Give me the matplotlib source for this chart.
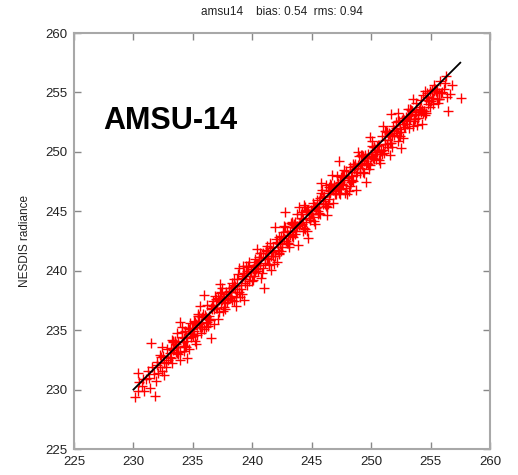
import matplotlib.pyplot as plt

# collocated brightness temperatures, channel 14
x_obs = [
    230.10, 230.35, 230.40, 230.70, 230.90, 231.05, 231.40, 231.50, 231.80, 231.70, 231.20,
    231.95, 232.10, 232.40, 232.40, 232.55, 232.70, 232.90, 232.30, 232.85, 232.60, 232.20,
    230.50, 230.80, 231.30, 231.60, 232.00, 232.50, 232.25, 232.75, 231.90,
    233.04, 233.46, 233.21, 233.79, 233.12, 233.63, 233.37, 233.88, 233.29, 233.71, 233.54, 233.96,
    234.06, 234.44, 234.23, 234.81, 234.10, 234.65, 234.35, 234.90, 234.27, 234.73, 234.52, 234.97,
    235.03, 235.47, 235.20, 235.78, 235.13, 235.61, 235.38, 235.86, 235.30, 235.70, 235.55, 235.94,
    236.05, 236.45, 236.22, 236.80, 236.11, 236.64, 236.36, 236.89, 236.28, 236.72, 236.53, 236.95,
    237.04, 237.46, 237.21, 237.79, 237.12, 237.63, 237.37, 237.88, 237.29, 237.71, 237.54, 237.96,
    238.06, 238.44, 238.23, 238.81, 238.10, 238.65, 238.35, 238.90, 238.27, 238.73, 238.52, 238.97,
    239.03, 239.47, 239.20, 239.78, 239.13, 239.61, 239.38, 239.86, 239.30, 239.70, 239.55, 239.94,
    240.05, 240.45, 240.22, 240.80, 240.11, 240.64, 240.36, 240.89, 240.28, 240.72, 240.53, 240.95,
    241.04, 241.46, 241.21, 241.79, 241.12, 241.63, 241.37, 241.88, 241.29, 241.71, 241.54, 241.96,
    242.06, 242.44, 242.23, 242.81, 242.10, 242.65, 242.35, 242.90, 242.27, 242.73, 242.52, 242.97,
    243.03, 243.47, 243.20, 243.78, 243.13, 243.61, 243.38, 243.86, 243.30, 243.70, 243.55, 243.94,
    244.05, 244.45, 244.22, 244.80, 244.11, 244.64, 244.36, 244.89, 244.28, 244.72, 244.53, 244.95,
    245.04, 245.46, 245.21, 245.79, 245.12, 245.63, 245.37, 245.88, 245.29, 245.71, 245.54, 245.96,
    246.06, 246.44, 246.23, 246.81, 246.10, 246.65, 246.35, 246.90, 246.27, 246.73, 246.52, 246.97,
    247.03, 247.47, 247.20, 247.78, 247.13, 247.61, 247.38, 247.86, 247.30, 247.70, 247.55, 247.94,
    248.05, 248.45, 248.22, 248.80, 248.11, 248.64, 248.36, 248.89, 248.28, 248.72, 248.53, 248.95,
    249.04, 249.46, 249.21, 249.79, 249.12, 249.63, 249.37, 249.88, 249.29, 249.71, 249.54, 249.96,
    250.06, 250.44, 250.23, 250.81, 250.10, 250.65, 250.35, 250.90, 250.27, 250.73, 250.52, 250.97,
    251.03, 251.47, 251.20, 251.78, 251.13, 251.61, 251.38, 251.86, 251.30, 251.70, 251.55, 251.94,
    252.05, 252.45, 252.22, 252.80, 252.11, 252.64, 252.36, 252.89, 252.28, 252.72, 252.53, 252.95,
    253.04, 253.46, 253.21, 253.79, 253.12, 253.63, 253.37, 253.88, 253.29, 253.71, 253.54, 253.96,
    254.06, 254.44, 254.23, 254.81, 254.10, 254.65, 254.35, 254.90, 254.27, 254.73, 254.52, 254.97,
    255.04, 255.46, 255.21, 255.79, 255.12, 255.63, 255.37, 255.88, 255.29, 255.71,
    256.10, 256.30, 256.40, 256.60, 256.50, 256.80, 257.60, 256.20,
    # second pass, core of the band
    233.17, 233.58, 233.33, 233.92, 233.08, 233.50, 233.75, 233.25, 233.67, 233.42,
    234.17, 234.58, 234.33, 234.92, 234.08, 234.50, 234.75, 234.25, 234.67, 234.42,
    235.17, 235.58, 235.33, 235.92, 235.08, 235.50, 235.75, 235.25, 235.67, 235.42,
    236.17, 236.58, 236.33, 236.92, 236.08, 236.50, 236.75, 236.25, 236.67, 236.42,
    237.17, 237.58, 237.33, 237.92, 237.08, 237.50, 237.75, 237.25, 237.67, 237.42,
    238.17, 238.58, 238.33, 238.92, 238.08, 238.50, 238.75, 238.25, 238.67, 238.42,
    239.17, 239.58, 239.33, 239.92, 239.08, 239.50, 239.75, 239.25, 239.67, 239.42,
    240.17, 240.58, 240.33, 240.92, 240.08, 240.50, 240.75, 240.25, 240.67, 240.42,
    241.17, 241.58, 241.33, 241.92, 241.08, 241.50, 241.75, 241.25, 241.67, 241.42,
    242.17, 242.58, 242.33, 242.92, 242.08, 242.50, 242.75, 242.25, 242.67, 242.42,
    243.17, 243.58, 243.33, 243.92, 243.08, 243.50, 243.75, 243.25, 243.67, 243.42,
    244.17, 244.58, 244.33, 244.92, 244.08, 244.50, 244.75, 244.25, 244.67, 244.42,
    245.17, 245.58, 245.33, 245.92, 245.08, 245.50, 245.75, 245.25, 245.67, 245.42,
    246.17, 246.58, 246.33, 246.92, 246.08, 246.50, 246.75, 246.25, 246.67, 246.42,
    247.17, 247.58, 247.33, 247.92, 247.08, 247.50, 247.75, 247.25, 247.67, 247.42,
    248.17, 248.58, 248.33, 248.92, 248.08, 248.50, 248.75, 248.25, 248.67, 248.42,
    249.17, 249.58, 249.33, 249.92, 249.08, 249.50, 249.75, 249.25, 249.67, 249.42,
    250.17, 250.58, 250.33, 250.92, 250.08, 250.50, 250.75, 250.25, 250.67, 250.42,
    251.17, 251.58, 251.33, 251.92, 251.08, 251.50, 251.75, 251.25, 251.67, 251.42,
    252.17, 252.58, 252.33, 252.92, 252.08, 252.50, 252.75, 252.25, 252.67, 252.42,
    253.17, 253.58, 253.33, 253.92, 253.08, 253.50, 253.75, 253.25, 253.67, 253.42,
    254.17, 254.58, 254.33, 254.92, 254.08, 254.50, 254.75, 254.25, 254.67, 254.42,
    255.17, 255.58, 255.33, 255.92, 255.08, 255.50, 255.75, 255.25, 255.67, 255.42,
]
y_nesdis = [
    229.40, 229.90, 231.40, 230.30, 229.90, 230.90, 230.10, 233.90, 229.50, 231.30, 231.60,
    232.10, 231.40, 231.60, 233.60, 232.20, 231.90, 232.50, 232.70, 233.40, 231.20, 232.90,
    230.60, 230.90, 231.00, 231.90, 232.30, 232.80, 231.90, 232.30, 230.70,
    232.74, 234.06, 232.21, 233.99, 232.62, 234.73, 233.37, 232.48, 234.09, 233.01, 233.84, 235.66,
    234.46, 233.54, 234.33, 234.41, 235.30, 233.45, 234.95, 234.70, 233.67, 235.63, 232.62, 235.17,
    234.53, 236.17, 234.10, 236.08, 234.93, 237.01, 234.58, 236.36, 233.80, 235.60, 236.15, 237.94,
    236.25, 235.85, 237.12, 235.50, 236.11, 237.14, 235.96, 237.89, 235.38, 237.02, 234.33, 236.85,
    236.84, 238.56, 236.51, 238.19, 235.92, 237.73, 238.17, 237.38, 238.89, 236.81, 237.74, 237.66,
    238.56, 237.44, 238.23, 239.71, 237.70, 237.05, 238.65, 240.20, 237.57, 239.33, 238.42, 237.77,
    238.43, 239.77, 240.40, 239.58, 238.03, 240.31, 238.98, 239.96, 237.50, 240.70, 239.95, 239.14,
    240.15, 239.95, 241.02, 239.80, 240.51, 240.44, 241.86, 240.19, 240.48, 239.42, 241.13, 238.55,
    240.64, 242.36, 241.11, 240.59, 241.62, 241.63, 240.57, 243.68, 240.99, 242.01, 240.04, 242.66,
    242.36, 241.64, 242.83, 242.51, 240.70, 243.75, 242.25, 243.30, 241.37, 244.93, 242.02, 242.97,
    242.33, 243.67, 243.00, 244.78, 242.03, 244.11, 242.88, 242.16, 244.10, 243.60, 243.85, 245.34,
    244.05, 243.55, 244.92, 244.40, 244.41, 243.34, 245.56, 244.29, 244.38, 242.72, 245.03, 244.75,
    244.74, 245.96, 244.21, 247.39, 244.52, 245.73, 245.27, 246.78, 243.89, 246.11, 244.74, 246.16,
    246.26, 246.04, 247.23, 245.71, 245.90, 247.25, 245.65, 247.20, 244.67, 248.03, 246.52, 246.47,
    246.43, 247.87, 247.00, 246.58, 247.93, 247.21, 247.48, 246.96, 249.20, 247.60, 248.05, 246.44,
    247.85, 247.55, 248.72, 248.30, 246.71, 248.84, 247.66, 249.99, 247.98, 246.82, 248.53, 249.65,
    248.24, 249.76, 248.91, 248.59, 249.72, 249.03, 249.27, 251.28, 248.29, 249.81, 247.44, 249.56,
    249.66, 249.44, 250.43, 250.11, 250.90, 249.35, 250.15, 251.30, 249.37, 249.03, 250.52, 252.17,
    250.13, 251.57, 250.70, 250.38, 251.73, 251.31, 250.38, 252.16, 250.70, 253.20, 249.75, 251.84,
    251.75, 251.35, 252.62, 252.10, 252.01, 251.14, 252.56, 252.09, 253.28, 252.32, 250.33, 252.95,
    252.34, 253.46, 252.01, 253.39, 253.62, 252.73, 253.17, 252.28, 253.59, 253.11, 254.44, 252.86,
    253.56, 253.44, 254.33, 254.01, 253.80, 253.25, 254.75, 254.30, 252.37, 254.63, 255.12, 253.77,
    254.24, 255.16, 254.01, 255.99, 254.52, 254.13, 255.27, 254.98, 255.59, 254.41,
    255.30, 256.40, 254.60, 254.90, 253.40, 255.60, 254.50, 255.80,
    # second pass, core of the band
    233.47, 233.18, 234.03, 233.12, 233.08, 234.00, 233.55, 234.15, 233.07, 233.52,
    233.97, 235.18, 233.63, 235.12, 234.88, 234.10, 234.75, 233.25, 235.07, 234.32,
    235.67, 235.28, 235.43, 235.12, 235.78, 235.50, 235.25, 235.55, 234.77, 236.32,
    235.67, 236.78, 236.23, 237.62, 235.28, 236.90, 236.75, 235.95, 237.47, 235.82,
    237.57, 236.98, 237.33, 237.72, 237.68, 236.60, 238.05, 238.15, 237.27, 237.52,
    237.87, 238.68, 238.93, 238.22, 238.28, 239.30, 238.25, 238.25, 237.77, 238.82,
    239.37, 238.78, 239.83, 239.92, 238.78, 240.40, 239.15, 239.55, 240.37, 239.32,
    239.57, 240.88, 240.13, 241.52, 239.18, 240.50, 241.15, 239.85, 241.47, 240.52,
    241.77, 241.28, 241.53, 241.22, 241.08, 241.90, 241.25, 242.05, 241.57, 240.52,
    241.77, 243.28, 242.33, 242.32, 242.38, 242.30, 243.65, 241.45, 242.77, 242.92,
    243.27, 243.08, 243.93, 243.82, 242.28, 243.90, 243.75, 244.05, 243.37, 242.82,
    243.97, 245.08, 243.63, 245.12, 244.78, 244.10, 244.75, 243.35, 245.07, 245.32,
    245.47, 244.88, 245.33, 245.62, 245.68, 245.00, 246.55, 245.35, 244.77, 245.32,
    245.47, 246.68, 246.83, 246.72, 245.58, 247.30, 246.75, 245.35, 246.97, 247.02,
    247.37, 247.28, 246.53, 248.42, 247.08, 246.90, 248.45, 247.15, 247.97, 246.42,
    247.67, 248.78, 247.43, 248.92, 247.78, 249.00, 248.05, 247.15, 248.97, 248.32,
    249.07, 248.98, 249.63, 248.92, 248.68, 249.60, 248.95, 249.75, 249.47, 248.22,
    249.47, 250.58, 250.03, 249.82, 250.48, 250.00, 249.85, 250.45, 250.57, 249.82,
    250.97, 250.78, 251.63, 251.42, 249.88, 251.50, 251.35, 251.75, 250.77, 251.32,
    251.57, 252.68, 251.33, 252.62, 252.48, 251.70, 252.65, 250.95, 252.87, 251.92,
    252.77, 252.58, 253.53, 253.22, 252.98, 252.20, 254.15, 252.75, 252.77, 253.42,
    253.37, 254.38, 253.23, 255.12, 253.58, 253.10, 254.65, 253.55, 254.97, 253.42,
    254.57, 254.48, 255.13, 255.02, 255.18, 255.10, 254.45, 255.25, 254.97, 255.12,
]

# 1:1 reference line
one_to_one = [230.0, 257.5]

ticks = [225, 230, 235, 240, 245, 250, 255, 260]

plt.rcParams['font.family'] = ['Liberation Sans', 'DejaVu Sans']

fig = plt.figure(figsize=(5.18, 4.75), dpi=100)
ax = fig.add_axes([74 / 518, 26 / 475, 416 / 518, 416 / 475])

ax.plot(x_obs, y_nesdis, linestyle='none', marker='+', color='#ff0000',
        markersize=7.5, markeredgewidth=1.0)
ax.plot(one_to_one, one_to_one, color='black', linewidth=1.3)

ax.set_xlim(225, 260)
ax.set_ylim(225, 260)
ax.set_xticks(ticks)
ax.set_yticks(ticks)
ax.tick_params(direction='in', length=5, width=1, color='#888888',
               top=True, right=True, labelsize=9.5, labelcolor='#222222', pad=5)

for side in ax.spines.values():
    side.set_color('#a8a8a8')
    side.set_linewidth(1.5)

ax.set_ylabel('NESDIS radiance', fontsize=8.5, color='#222222', labelpad=10)
ax.set_title('amsu14    bias: 0.54  rms: 0.94', fontsize=8.5, color='#222222', pad=13)

ax.text(227.45, 252.6, 'AMSU-14', fontsize=22, fontweight='bold', color='black',
        va='center', ha='left')

fig.savefig('out.png', dpi=100)
